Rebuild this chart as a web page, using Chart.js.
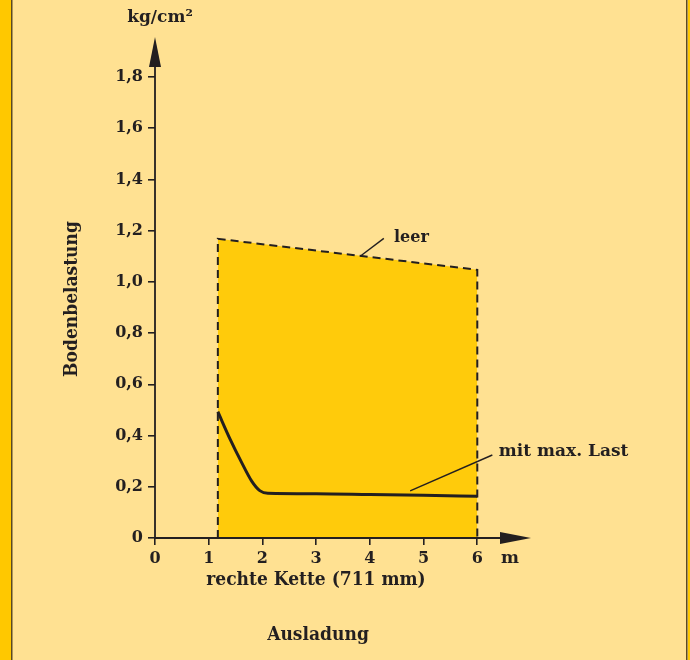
<!DOCTYPE html>
<html>
<head>
<meta charset="utf-8">
<script src="https://cdn.jsdelivr.net/npm/chart.js@4"></script>
<style>
  html, body { margin: 0; padding: 0; background: #FFE192; }
  #wrap { width: 690px; height: 660px; position: relative; }
</style>
</head>
<body>
<div id="wrap"><canvas id="chart" width="690" height="660"></canvas></div>
<script>
// Bodenbelastung über Ausladung, rechte Kette (711 mm)
const xTicks = [0, 1, 2, 3, 4, 5, 6];
const yTicks = [0, 0.2, 0.4, 0.6, 0.8, 1.0, 1.2, 1.4, 1.6, 1.8];

// leer: Bereich, oben gestrichelt
const leerX = [1.17, 1.17, 6.0, 6.0];
const leerY = [0, 1.168, 1.047, 0];

// mit max. Last
const lastX = [1.17, 1.4, 1.6, 1.8, 1.95, 2.1, 3.0, 4.0, 5.0, 6.0];
const lastY = [0.493, 0.385, 0.30, 0.222, 0.185, 0.175, 0.173, 0.170, 0.167, 0.163];

// Beschriftungen (Text, x, y) und Hinweislinien (x1, y1, x2, y2)
const noteText = ['leer', 'mit max. Last'];
const noteX = [4.45, 6.4];
const noteY = [1.17, 0.336];
const leaderFrom = [[3.82, 1.10], [4.75, 0.184]];
const leaderTo = [[4.26, 1.17], [6.28, 0.324]];

const INK = '#231F20';
const FILL = '#FFCB0B';
const BG = '#FFE192';
const SERIF = '"DejaVu Serif", serif';
const COND = '"DejaVu Serif Condensed", "DejaVu Serif", serif';

const fmt = v => v === 0 ? '0' : v.toFixed(1).replace('.', ',');
const pts = (xs, ys) => xs.map((x, i) => ({ x, y: ys[i] }));

const decor = {
  id: 'decor',
  beforeDraw(chart) {
    const c = chart.ctx;
    c.save();
    c.fillStyle = BG;
    c.fillRect(0, 0, chart.width, chart.height);
    // left and right strips
    c.fillStyle = '#FFC800';
    c.fillRect(0, 0, 11, chart.height);
    c.fillRect(688, 0, 2, chart.height);
    c.fillStyle = '#5B4A22';
    c.fillRect(11, 0, 1.5, chart.height);
    c.fillRect(686, 0, 1.5, chart.height);
    c.restore();
  },
  afterDraw(chart) {
    const c = chart.ctx;
    const xs = chart.scales.x, ys = chart.scales.y;
    const a = chart.chartArea;
    const x0 = xs.getPixelForValue(0), y0 = ys.getPixelForValue(0);
    c.save();
    c.fillStyle = INK;
    c.strokeStyle = INK;
    // axis lines
    c.lineWidth = 1.8;
    c.beginPath();
    c.moveTo(x0, y0); c.lineTo(x0, a.top + 20);
    c.moveTo(x0, y0); c.lineTo(a.right - 20, y0);
    c.stroke();
    // arrow heads
    c.beginPath();
    c.moveTo(x0, a.top); c.lineTo(x0 - 6, a.top + 30); c.lineTo(x0 + 6, a.top + 30); c.closePath();
    c.fill();
    c.beginPath();
    c.moveTo(a.right, y0); c.lineTo(a.right - 31, y0 - 6); c.lineTo(a.right - 31, y0 + 6); c.closePath();
    c.fill();
    // leader lines
    c.lineWidth = 1.4;
    leaderFrom.forEach((f, i) => {
      const t = leaderTo[i];
      c.beginPath();
      c.moveTo(xs.getPixelForValue(f[0]), ys.getPixelForValue(f[1]));
      c.lineTo(xs.getPixelForValue(t[0]), ys.getPixelForValue(t[1]));
      c.stroke();
    });
    // notes
    c.textBaseline = 'middle';
    c.textAlign = 'left';
    c.font = 'bold 16px ' + SERIF;
    c.fillText(noteText[0], xs.getPixelForValue(noteX[0]), ys.getPixelForValue(noteY[0]));
    c.font = 'bold 17px ' + SERIF;
    c.fillText(noteText[1], xs.getPixelForValue(noteX[1]), ys.getPixelForValue(noteY[1]));
    // units
    c.textAlign = 'center';
    c.font = 'bold 17px ' + SERIF;
    c.fillText('kg/cm²', 160, 18);
    c.fillText('m', 510, 559);
    // titles
    c.font = 'bold 19px ' + COND;
    c.fillText('rechte Kette (711 mm)', 316, 580);
    c.fillText('Ausladung', 318, 635);
    c.translate(72, 299);
    c.rotate(-Math.PI / 2);
    c.fillText('Bodenbelastung', 0, 0);
    c.restore();
  }
};

new Chart(document.getElementById('chart'), {
  type: 'line',
  data: {
    datasets: [
      {
        label: 'leer',
        data: pts(leerX, leerY),
        borderColor: INK,
        borderWidth: 2,
        borderDash: [8, 5],
        backgroundColor: FILL,
        fill: 'origin',
        pointRadius: 0,
        tension: 0,
        order: 2
      },
      {
        label: 'mit max. Last',
        data: pts(lastX, lastY),
        borderColor: INK,
        borderWidth: 3,
        fill: false,
        pointRadius: 0,
        cubicInterpolationMode: 'monotone',
        order: 1
      }
    ]
  },
  plugins: [decor],
  options: {
    responsive: false,
    animation: false,
    layout: { padding: { top: 37, right: 159, bottom: 0, left: 0 } },
    plugins: { legend: { display: false }, tooltip: { enabled: false } },
    scales: {
      x: {
        type: 'linear',
        min: 0,
        max: 7,
        afterBuildTicks: s => { s.ticks = xTicks.map(v => ({ value: v })); },
        afterFit: s => { s.height = 122; },
        border: { display: false },
        grid: { drawOnChartArea: false, drawTicks: true, tickLength: 7, color: INK, lineWidth: 1.6 },
        ticks: { color: INK, padding: 4, font: { family: SERIF, size: 16, weight: 'bold' }, maxRotation: 0 }
      },
      y: {
        type: 'linear',
        min: 0,
        max: 1.956,
        afterBuildTicks: s => { s.ticks = yTicks.map(v => ({ value: v })); },
        afterFit: s => { s.width = 155; },
        border: { display: false },
        grid: { drawOnChartArea: false, drawTicks: true, tickLength: 7, color: INK, lineWidth: 1.6 },
        ticks: { color: INK, padding: 5, callback: v => fmt(v), font: { family: SERIF, size: 16, weight: 'bold' } }
      }
    }
  }
});
</script>
</body>
</html>
